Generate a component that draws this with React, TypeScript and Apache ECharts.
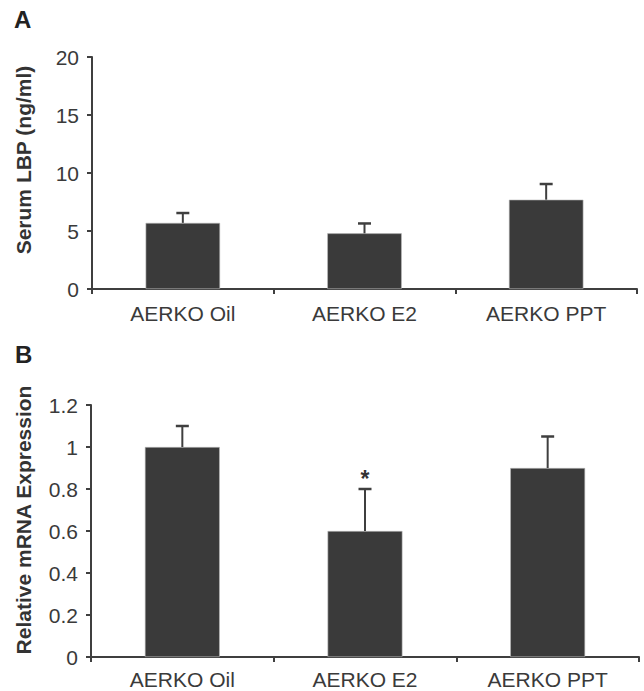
import React, { useEffect, useRef } from "react";
import * as echarts from "echarts";

const categories = ["AERKO Oil", "AERKO E2", "AERKO PPT"];

// Panel A: Serum LBP (ng/ml)
const lbpMean = [5.7, 4.8, 7.7];
const lbpUpper = [6.55, 5.65, 9.05];
const lbpTicks = { min: 0, max: 20, interval: 5 };

// Panel B: Relative mRNA expression
const mrnaMean = [1.0, 0.6, 0.9];
const mrnaUpper = [1.1, 0.8, 1.05];
const mrnaSig = ["", "*", ""];
const mrnaTicks = { min: 0, max: 1.2, interval: 0.2 };

const FONT = "'Liberation Sans', Arial, Helvetica, sans-serif";
const AXIS = "#3f3f3f";
const BAR = "#3a3a3a";
const TEXT = "#3a3a3a";

function errRender(params: any, api: any) {
  const x = api.value(0);
  const v = api.value(1);
  const e = api.value(2);
  const sig = api.value(3);
  const p0 = api.coord([x, v]);
  const p1 = api.coord([x, e]);
  const half = 6.5;
  const children: any[] = [
    {
      type: "line",
      shape: { x1: p0[0], y1: p0[1], x2: p1[0], y2: p1[1] },
      style: { stroke: AXIS, lineWidth: 2 },
    },
    {
      type: "line",
      shape: { x1: p1[0] - half, y1: p1[1], x2: p1[0] + half, y2: p1[1] },
      style: { stroke: AXIS, lineWidth: 2.5 },
    },
  ];
  if (sig === 1) {
    children.push({
      type: "text",
      style: {
        text: "*",
        x: p1[0],
        y: p1[1] - 10,
        align: "center",
        verticalAlign: "middle",
        font: `bold 23px ${FONT}`,
        fill: "#333",
      },
    });
  }
  return { type: "group", children };
}

export default function App() {
  const ref = useRef<HTMLDivElement>(null);
  useEffect(() => {
    if (!ref.current) return;
    const chart = echarts.init(ref.current, null, { renderer: "svg" });
    const axisCommon = {
      axisLine: { show: true, lineStyle: { color: AXIS, width: 2 } },
      axisTick: { show: true, length: 5, lineStyle: { color: AXIS, width: 2 } },
      splitLine: { show: false },
    };
    const yLabel = { color: TEXT, fontSize: 21, fontFamily: FONT, margin: 13 };
    const option: any = {
      animation: false,
      backgroundColor: "#fff",
      graphic: [
        { type: "text", left: 14, top: 7, style: { text: "A", font: `bold 24px ${FONT}`, fill: "#222" } },
        { type: "text", left: 15, top: 342, style: { text: "B", font: `bold 24px ${FONT}`, fill: "#222" } },
      ],
      grid: [
        { left: 92, top: 57, width: 545, height: 232 },
        { left: 91, top: 405, width: 548, height: 252 },
      ],
      xAxis: [
        {
          type: "category",
          gridIndex: 0,
          data: categories,
          ...axisCommon,
          axisLabel: { color: TEXT, fontSize: 21, fontFamily: FONT, margin: 14 },
        },
        {
          type: "category",
          gridIndex: 1,
          data: categories,
          ...axisCommon,
          axisLabel: { color: TEXT, fontSize: 21, fontFamily: FONT, margin: 12 },
        },
      ],
      yAxis: [
        {
          type: "value",
          gridIndex: 0,
          ...lbpTicks,
          ...axisCommon,
          axisLabel: yLabel,
          name: "Serum LBP (ng/ml)",
          nameLocation: "middle",
          nameGap: 58,
          nameTextStyle: { fontSize: 21, fontWeight: "bold", fontFamily: FONT, color: "#333", padding: [0, 0, 0, 26] },
        },
        {
          type: "value",
          gridIndex: 1,
          ...mrnaTicks,
          ...axisCommon,
          axisLabel: yLabel,
          name: "Relative mRNA Expression",
          nameLocation: "middle",
          nameGap: 57,
          nameTextStyle: { fontSize: 21, fontWeight: "bold", fontFamily: FONT, color: "#333", padding: [0, 0, 0, 22] },
        },
      ],
      series: [
        {
          type: "bar",
          xAxisIndex: 0,
          yAxisIndex: 0,
          data: lbpMean,
          barWidth: "41%",
          itemStyle: { color: BAR, borderColor: "#bbb", borderWidth: 0.6 },
        },
        {
          type: "custom",
          xAxisIndex: 0,
          yAxisIndex: 0,
          renderItem: errRender,
          data: categories.map((_, i) => [i, lbpMean[i], lbpUpper[i], 0]),
          z: 3,
        },
        {
          type: "bar",
          xAxisIndex: 1,
          yAxisIndex: 1,
          data: mrnaMean,
          barWidth: "41%",
          itemStyle: { color: BAR, borderColor: "#bbb", borderWidth: 0.6 },
        },
        {
          type: "custom",
          xAxisIndex: 1,
          yAxisIndex: 1,
          renderItem: errRender,
          data: categories.map((_, i) => [i, mrnaMean[i], mrnaUpper[i], mrnaSig[i] === "*" ? 1 : 0]),
          z: 3,
        },
      ],
    };
    chart.setOption(option);
    return () => chart.dispose();
  }, []);
  return (
    <div
      ref={ref}
      style={{ position: "fixed", left: 0, top: 0, width: 644, height: 691, background: "#fff" }}
    />
  );
}
